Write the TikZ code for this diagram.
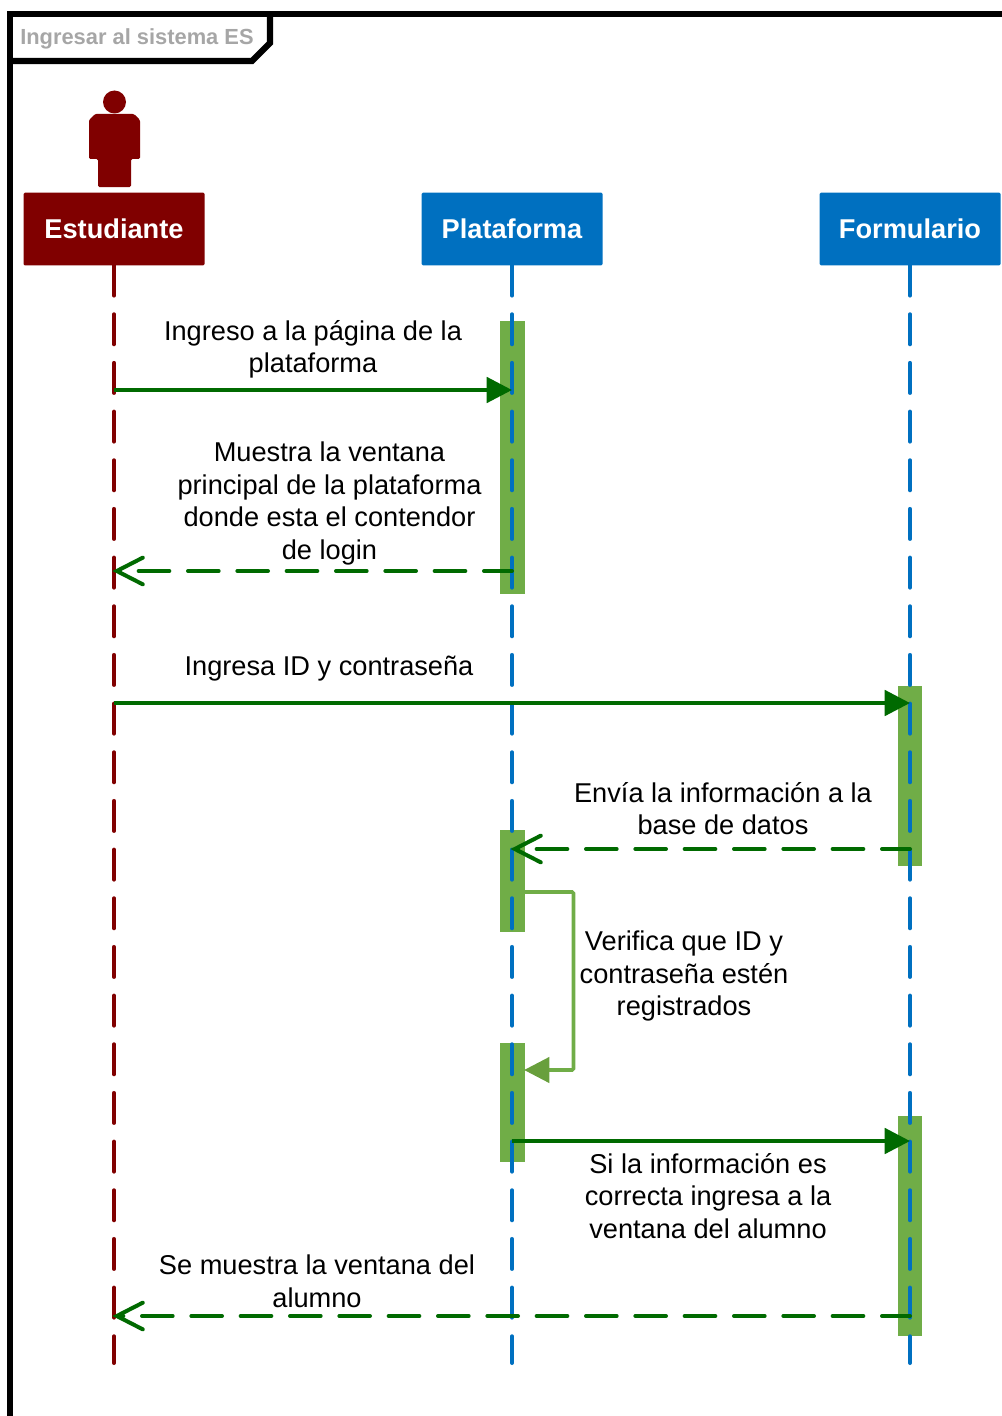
\documentclass[tikz,border=0pt]{standalone}
\usepackage{fontspec}
\setmainfont{Liberation Sans}
\usetikzlibrary{arrows.meta,calc}
\definecolor{maroonc}{HTML}{800000}
\definecolor{bluec}{HTML}{0070C0}
\definecolor{darkg}{HTML}{006A00}
\definecolor{barg}{HTML}{70AD47}
\definecolor{tipg}{HTML}{689F3C}
\definecolor{titleg}{HTML}{A6A6A6}
\tikzset{
 x=0.75pt,y=-0.75pt,
 headbox/.style={draw=none,rounded corners=1pt,minimum width=135.75pt,minimum height=54.5pt,inner sep=0pt,text=white,font=\fontsize{20.4}{24}\selectfont\bfseries,anchor=center},
 bar/.style={fill=barg,draw=none,inner sep=0pt,minimum width=18.4pt},
 life/.style={line width=3pt,dash pattern=on 22.5pt off 14pt,line cap=round},
 msgsolid/.style={darkg,line width=3pt,-{Triangle[length=19pt,width=19pt]}},
 msgback/.style={darkg,line width=3pt,dash pattern=on 23pt off 14pt,dash phase=2pt,line cap=round,shorten >=-1.2pt,-{Straight Barb[length=19.5pt,width=20pt,line cap=round,line width=3pt]}},
 selfmsg/.style={barg,line width=2.7pt,shorten >=-0.7pt,-{Triangle[length=19pt,width=19pt,fill=tipg,color=tipg]}},
 lab/.style={align=center,inner sep=0pt,font=\fontsize{20.4}{24.4}\selectfont,text=black},
}
\begin{document}
\begin{tikzpicture}
\useasboundingbox (0,0) rectangle (1002,1416);
% frame
\draw[black,line width=4.6pt,line join=miter] (10,1420) -- (10,14) -- (1006,14);
\draw[black,line width=4.6pt] (10,61) -- (252,61) -- (270,43) -- (270,14);
\node[anchor=west,inner sep=0pt,text=titleg,font=\fontsize{16.4}{20}\selectfont\bfseries] (title) at (20,38.5) {Ingresar al sistema ES};
% actor
\fill[maroonc] (114.5,102) circle[radius=11.5];
\fill[maroonc,rounded corners=1pt] (89,159) -- (89,120) -- (95,114) -- (134,114) -- (140,120) -- (140,159) -- (131,159) -- (131,187) -- (98,187) -- (98,159) -- cycle;
% headers
\node[headbox,fill=maroonc] (est) at (114,229) {\raisebox{1.2pt}{Estudiante}};
\node[headbox,fill=bluec] (pla) at (512,229) {\raisebox{1.2pt}{Plataforma}};
\node[headbox,fill=bluec] (for) at (910,229) {\raisebox{1.2pt}{Formulario}};
% activation bars
\node[bar,minimum height=204.75pt] (b1) at (512.5,457.5) {};
\node[bar,minimum height=135pt] (b2) at (910,776) {};
\node[bar,minimum height=76.5pt] (b3) at (512.5,881) {};
\node[bar,minimum height=89.25pt] (b4) at (512.5,1102.5) {};
\node[bar,minimum height=165pt] (b5) at (910,1226) {};
% lifeline ends
\coordinate (estE) at (114,1363);
\coordinate (plaE) at (512,1363);
\coordinate (forE) at (910,1363);
\draw[life,maroonc] (est.south) -- (estE);
\draw[life,bluec] (pla.south) -- (plaE);
\draw[life,bluec] (for.south) -- (forE);
% message anchors
\coordinate (m1a) at (est.south |- 0,390); \coordinate (m1b) at (pla.south |- 0,390);
\coordinate (m2a) at (pla.south |- 0,571); \coordinate (m2b) at (est.south |- 0,571);
\coordinate (m3a) at (est.south |- 0,703); \coordinate (m3b) at (for.south |- 0,703);
\coordinate (m4a) at (for.south |- 0,849); \coordinate (m4b) at (pla.south |- 0,849);
\coordinate (m5a) at (b3.east |- 0,892); \coordinate (m5b) at (b4.east |- 0,1070);
\coordinate (m6a) at (pla.south |- 0,1141); \coordinate (m6b) at (for.south |- 0,1141);
\coordinate (m7a) at (for.south |- 0,1316); \coordinate (m7b) at (est.south |- 0,1316);
\draw[msgsolid] (m1a) -- (m1b);
\draw[msgback] (m2a) -- (m2b);
\draw[msgsolid] (m3a) -- (m3b);
\draw[msgback] (m4a) -- (m4b);
\draw[selfmsg,rounded corners=1pt] (m5a) -- (573.5,892) -- (573.5,1070) -- (m5b);
\draw[msgsolid] (m6a) -- (m6b);
\draw[msgback] (m7a) -- (m7b);
% labels
\node[lab] (l1) at (313,349.5) {Ingreso a la página de la\\plataforma};
\node[lab] (l2) at (329.5,503.5) {Muestra la ventana\\principal de la plataforma\\donde esta el contendor\\de login};
\node[lab] (l3) at (329,669) {Ingresa ID y contraseña};
\node[lab] (l4) at (723,808.5) {Envía la información a la\\base de datos};
\node[lab] (l5) at (684,976) {Verifica que ID y\\contraseña estén\\registrados};
\node[lab] (l6) at (708,1196) {Si la información es\\correcta ingresa a la\\ventana del alumno};
\node[lab] (l7) at (317,1281.5) {Se muestra la ventana del\\alumno};
\end{tikzpicture}
\end{document}
